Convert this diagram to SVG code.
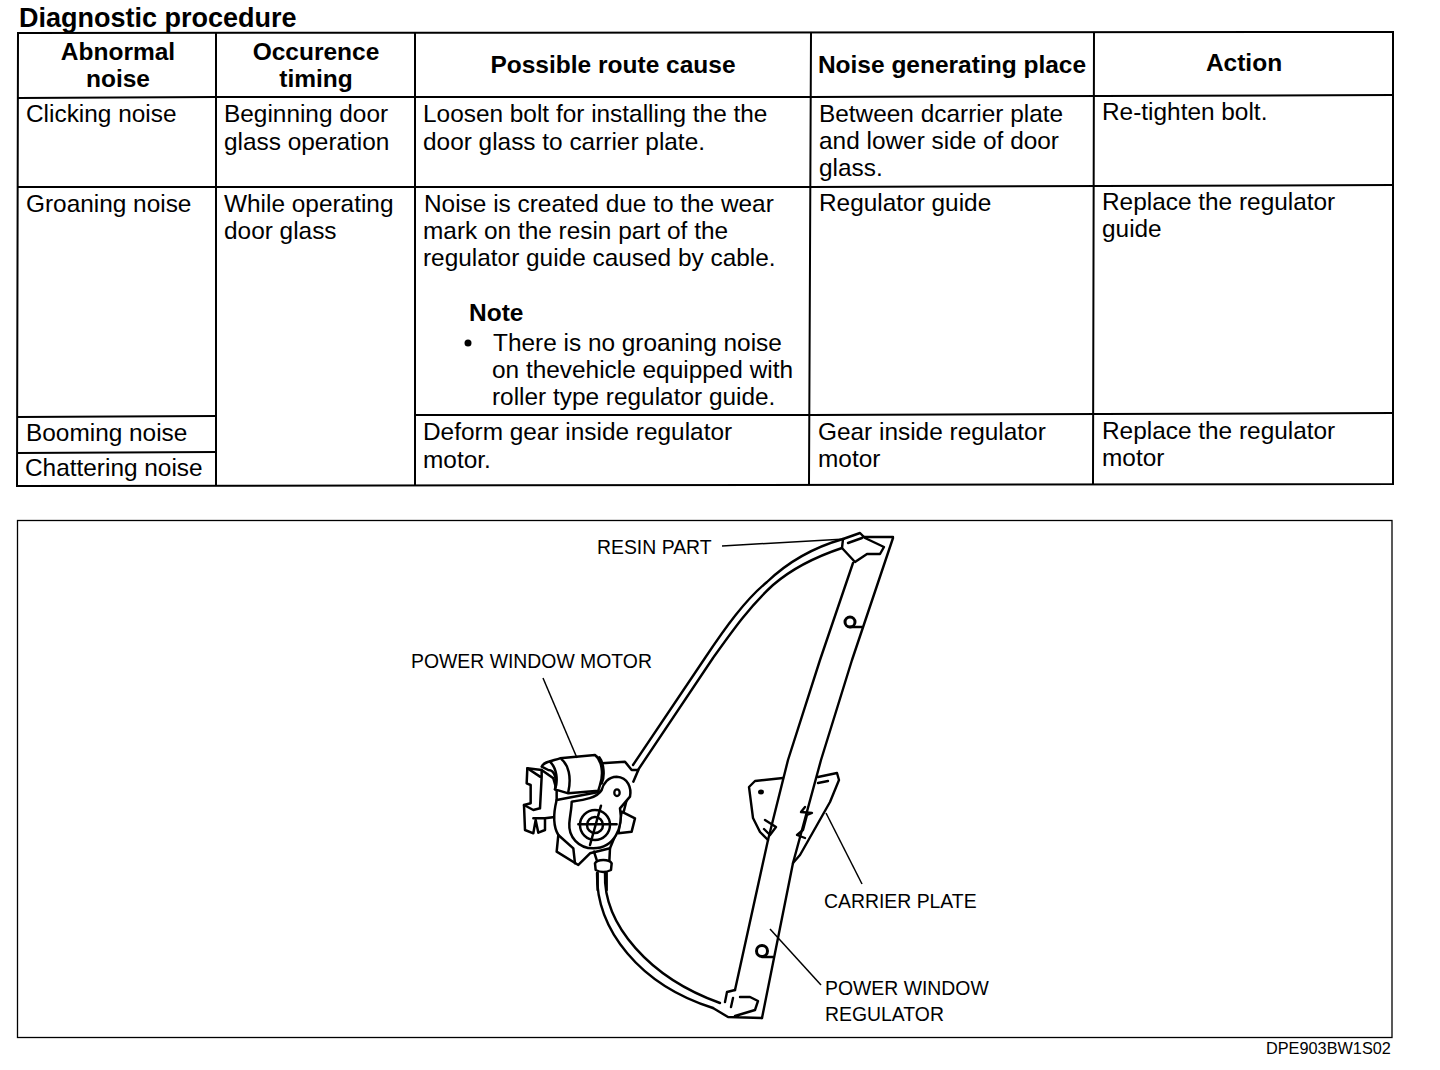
<svg xmlns="http://www.w3.org/2000/svg" width="1440" height="1070" viewBox="0 0 1440 1070">
<style>
text{font-family:"Liberation Sans",Arial,sans-serif;fill:#000}
.c{font-size:24.4px}
.h{font-size:24.5px;font-weight:bold;text-anchor:middle}
.l{font-size:19.4px}
.t{fill:none;stroke:#000;stroke-width:2}
.d{fill:none;stroke:#000;stroke-width:2.4;stroke-linejoin:round;stroke-linecap:round}
.z{fill:none;stroke:#000;stroke-width:7.5;stroke-linejoin:round;stroke-linecap:round}
.f{fill:#fff;stroke:#000;stroke-width:7.5;stroke-linejoin:round}
.k{fill:none;stroke:#000;stroke-width:1.5}
</style>
<text x="19" y="27" style="font-size:27px;font-weight:bold">Diagnostic procedure</text>
<g id="table">
<path class="t" d="M18,33 L1393,32 L1393,484 L17,486 Z"/>
<path class="t" d="M18,98 L216,97 L810,97 L1393,95"/>
<path class="t" d="M18,187 L810,187 L1393,185"/>
<path class="t" d="M18,417 L216,416 M415,415 L810,415 L1393,413"/>
<path class="t" d="M18,453 L216,452"/>
<path class="t" d="M216,33 L216,486 M415,33 L415,486 M811,33 L809,485 M1094,32 L1093,484"/>
</g>
<g id="header">
<text class="h" x="118" y="60">Abnormal</text><text class="h" x="118" y="87">noise</text>
<text class="h" x="316" y="60">Occurence</text><text class="h" x="316" y="87">timing</text>
<text class="h" x="613" y="73">Possible route cause</text>
<text class="h" x="952" y="73">Noise generating place</text>
<text class="h" x="1244" y="71">Action</text>
</g>
<g id="row1">
<text class="c" x="26" y="122">Clicking noise</text>
<text class="c" x="224" y="122">Beginning door</text><text class="c" x="224" y="150">glass operation</text>
<text class="c" x="423" y="122">Loosen bolt for installing the the</text><text class="c" x="423" y="150">door glass to carrier plate.</text>
<text class="c" x="819" y="122">Between dcarrier plate</text><text class="c" x="819" y="149">and lower side of door</text><text class="c" x="819" y="176">glass.</text>
<text class="c" x="1102" y="120">Re-tighten bolt.</text>
</g>
<g id="row2">
<text class="c" x="26" y="212">Groaning noise</text>
<text class="c" x="224" y="212">While operating</text><text class="c" x="224" y="239">door glass</text>
<text class="c" x="424" y="212">Noise is created due to the wear</text><text class="c" x="423" y="239">mark on the resin part of the</text><text class="c" x="423" y="266">regulator guide caused by cable.</text>
<text x="469" y="321" style="font-size:24.5px;font-weight:bold">Note</text>
<circle cx="468" cy="343" r="3.5"/>
<text class="c" x="493" y="351">There is no groaning noise</text><text class="c" x="492" y="378">on thevehicle equipped with</text><text class="c" x="492" y="405">roller type regulator guide.</text>
<text class="c" x="819" y="211">Regulator guide</text>
<text class="c" x="1102" y="210">Replace the regulator</text><text class="c" x="1102" y="237">guide</text>
</g>
<g id="row3">
<text class="c" x="26" y="441">Booming noise</text>
<text class="c" x="25" y="476">Chattering noise</text>
<text class="c" x="423" y="440">Deform gear inside regulator</text><text class="c" x="423" y="468">motor.</text>
<text class="c" x="818" y="440">Gear inside regulator</text><text class="c" x="818" y="467">motor</text>
<text class="c" x="1102" y="439">Replace the regulator</text><text class="c" x="1102" y="466">motor</text>
</g>
<rect id="figure-frame" x="17.500" y="520.500" width="1374.500" height="517" fill="none" stroke="#000" stroke-width="1.300"/>
<g id="regulator">
<path class="d" d="M633,765 L705,658 C725,628 745,600 767,582 C790,560 815,547 843,539"/>
<path class="d" d="M638,770 L713,658 C733,630 750,606 773,585 C795,566 818,556 842,548"/>
<path class="d" d="M853,563 L820,660 L788,760 L768,840 L735,990 M893,538 L852,660 L821,760 L793,863 L762,1018 M863,537 L893,537"/>
<path class="d" d="M842,548 L855,562 L867,554 L880,554 L884,547 L865,538 L860,533 L843,539 Z M848,543 L862,538"/>
<path class="d" d="M713,1008 L728,1017 L762,1018 M725,1002 L727,992 L735,990 M740,997 L750,997 L758,1001 L755,1010 L735,1016 M733,998 L731,1007"/>
<path class="d" d="M597,873 C596,930 640,985 713,1008 M605,873 C603,925 650,978 720,1003"/>
<path class="d" d="M783,778 L755,781 L749,787 L753,818 L760,832 L768,840 M765,820 L776,827 L770,835 L764,829"/>
<path class="d" d="M818,777 L837,773 L839,780 L830,802 L817,825 L800,855 L793,863 M818,783 L828,781"/>
<path class="d" d="M805,807 L801,812 L812,813 L807,815 L803,830 L797,835 L805,838"/>
<ellipse cx="761" cy="792" rx="3" ry="2.500" fill="#000"/>
<circle cx="850" cy="622" r="5" fill="#fff" stroke="#000" stroke-width="3"/>
<path class="d" d="M850,627 L862,627"/>
<circle cx="762" cy="951" r="5.500" fill="#fff" stroke="#000" stroke-width="3"/>
<path class="d" d="M762,957 L773,957"/>
</g>
<g id="motor" transform="translate(500,720) scale(.3333)">
<path class="f" d="M160,175 L125,150 L82,145 L80,190 L92,195 L92,250 L72,255 L75,330 L100,340 L107,300 L115,338 L135,330 L135,295 L170,290 L170,210 Z"/>
<path class="z" d="M125,150 L125,170 L120,265 M82,145 L120,170 M72,255 L100,270 L120,265 M100,295 L135,295"/>
<path class="f" d="M125,140 C130,125 160,122 180,115 L285,105 C305,120 312,160 300,195 L295,212 L205,220 L165,208 C172,180 165,150 145,150 Z"/>
<path class="z" d="M150,125 C170,145 175,180 165,208 M185,118 C205,135 215,170 205,215 M298,112 C312,130 315,170 305,190"/>
<path class="z" d="M305,130 L375,125 L395,150 L415,150 L400,185"/>
<path class="f" d="M170,240 C160,280 160,320 175,345 L170,395 L235,435 L270,400 L330,385 L365,300 L380,240 L300,215 Z"/>
<path class="z" d="M175,345 L220,385 L225,430"/>
<path class="f" d="M365,275 L405,295 L395,335 L355,340 Z"/>
<path class="f" d="M215,245 C250,240 290,235 305,210 C310,190 325,170 350,170 C385,172 395,205 390,230 L360,265 C370,320 345,385 280,385 C235,385 205,350 208,310 C210,285 215,265 215,245 Z"/>
<circle class="z" cx="285" cy="315" r="45"/>
<circle class="z" cx="285" cy="315" r="24"/>
<path class="z" d="M235,313 L350,313 M303,257 L270,375"/>
<ellipse cx="351" cy="218" rx="8" ry="10" fill="#fff" stroke="#000" stroke-width="7"/>
<path class="z" d="M282,395 L290,420 M330,385 L328,425"/>
<path class="f" d="M285,430 Q290,420 310,420 Q330,420 335,430 L333,450 Q310,462 287,450 Z"/>
<path class="z" d="M293,458 L293,510 M320,458 L320,510"/>
</g>
<g id="leaders">
<path class="k" d="M722,546 L845,539"/>
<path class="k" d="M543,678 L577,758"/>
<path class="k" d="M826,813 L862,884"/>
<path class="k" d="M770,929 L821,985"/>
</g>
<g id="labels">
<text class="l" x="597" y="554">RESIN PART</text>
<text class="l" x="411" y="668">POWER WINDOW MOTOR</text>
<text class="l" x="824" y="908">CARRIER PLATE</text>
<text class="l" x="825" y="995">POWER WINDOW</text>
<text class="l" x="825" y="1021">REGULATOR</text>
<text x="1266" y="1054" style="font-size:16.3px">DPE903BW1S02</text>
</g>
</svg>
